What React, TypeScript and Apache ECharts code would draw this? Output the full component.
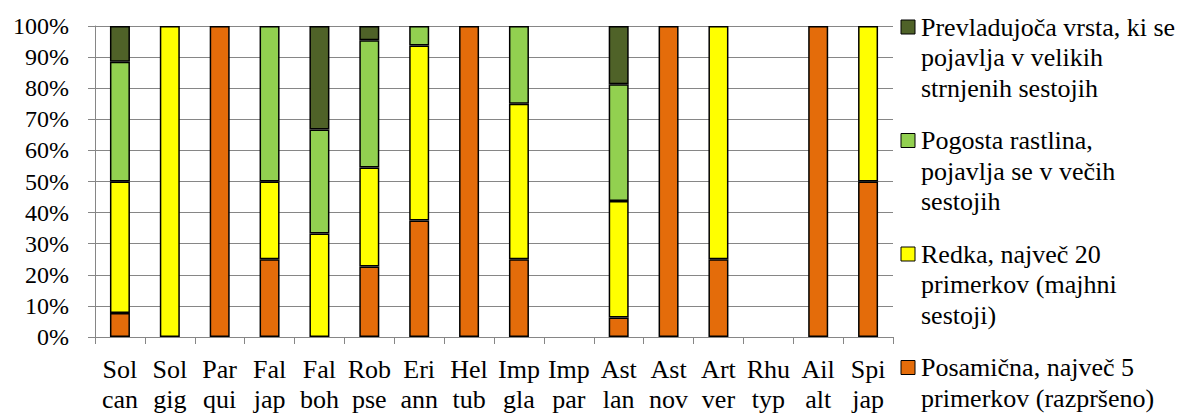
import React, { useEffect, useRef } from "react";
import * as echarts from "echarts";

const categories = [
  "Sol\ncan", "Sol\ngig", "Par\nqui", "Fal\njap", "Fal\nboh", "Rob\npse", "Eri\nann", "Hel\ntub",
  "Imp\ngla", "Imp\npar", "Ast\nlan", "Ast\nnov", "Art\nver", "Rhu\ntyp", "Ail\nalt", "Spi\njap",
];

// Posamična (bottom)
const posamicna = [7.7, 0, 100, 25, 0, 22.7, 37.5, 100, 25, 0, 6.25, 100, 25, 0, 100, 50];
// Redka
const redka = [42.3, 100, 0, 25, 33.3, 31.8, 56.25, 0, 50, 0, 37.5, 0, 75, 0, 0, 50];
// Pogosta
const pogosta = [38.5, 0, 0, 50, 33.4, 40.9, 6.25, 0, 25, 0, 37.5, 0, 0, 0, 0, 0];
// Prevladujoča (top)
const prevladujoca = [11.5, 0, 0, 0, 33.3, 4.6, 0, 0, 0, 0, 18.75, 0, 0, 0, 0, 0];

const seriesNames = [
  "Posamična, največ 5\nprimerkov (razpršeno)",
  "Redka, največ 20\nprimerkov (majhni\nsestoji)",
  "Pogosta rastlina,\npojavlja se v večih\nsestojih",
  "Prevladujoča vrsta, ki se\npojavlja v velikih\nstrnjenih sestojih",
];
const seriesValues = [posamicna, redka, pogosta, prevladujoca];
const seriesColors = ["#E46C0A", "#FFFF00", "#92D050", "#4F6228"];

const yTicks = [0, 10, 20, 30, 40, 50, 60, 70, 80, 90, 100];

const FONT = "Liberation Serif, Times New Roman, serif";

export default function App() {
  const ref = useRef<HTMLDivElement>(null);

  useEffect(() => {
    if (!ref.current) return;
    const chart = echarts.init(ref.current, undefined, { renderer: "svg" });

    const legendGraphics: any[] = [];
    const order = [3, 2, 1, 0];
    order.forEach((si, k) => {
      const cy = 27 + k * 113.5;
      legendGraphics.push({
        type: "rect",
        shape: { x: 901, y: cy - 7, width: 14, height: 14 },
        style: { fill: seriesColors[si], stroke: "#000", lineWidth: 1 },
      });
      legendGraphics.push({
        type: "text",
        x: 921,
        y: cy - 15,
        style: {
          text: seriesNames[si],
          fontFamily: FONT,
          fontSize: 26,
          fill: "#000",
          lineHeight: 30.5,
          verticalAlign: "top",
          align: "left",
        },
      });
    });

    chart.setOption({
      animation: false,
      backgroundColor: "#fff",
      textStyle: { fontFamily: FONT },
      grid: { left: 95, right: 289, top: 26, bottom: 77, containLabel: false },
      xAxis: {
        type: "category",
        data: categories,
        axisLine: { show: true, lineStyle: { color: "#868686", width: 1 } },
        axisTick: { show: true, length: 7, interval: 0, lineStyle: { color: "#868686" } },
        axisLabel: {
          interval: 0,
          margin: 17,
          color: "#000",
          fontFamily: FONT,
          fontSize: 26,
          lineHeight: 30,
        },
        splitLine: { show: false },
      },
      yAxis: {
        type: "value",
        min: yTicks[0],
        max: yTicks[yTicks.length - 1],
        interval: 10,
        axisLine: { show: true, lineStyle: { color: "#868686", width: 1 } },
        axisTick: { show: true, length: 7, lineStyle: { color: "#868686" } },
        axisLabel: {
          formatter: "{value}%",
          margin: 26,
          color: "#000",
          fontFamily: FONT,
          fontSize: 24,
        },
        splitLine: { show: true, lineStyle: { color: "#868686", width: 1 } },
      },
      series: seriesValues.map((vals, i) => ({
        name: seriesNames[i],
        type: "bar",
        stack: "total",
        barWidth: 20,
        data: vals.map((v) => (v ? v : null)),
        itemStyle: { color: seriesColors[i], borderColor: "#000", borderWidth: 1.5 },
      })),
      graphic: legendGraphics,
    });

    return () => chart.dispose();
  }, []);

  return (
    <div
      ref={ref}
      style={{ position: "fixed", left: 0, top: 0, width: 1182, height: 414 }}
    />
  );
}
